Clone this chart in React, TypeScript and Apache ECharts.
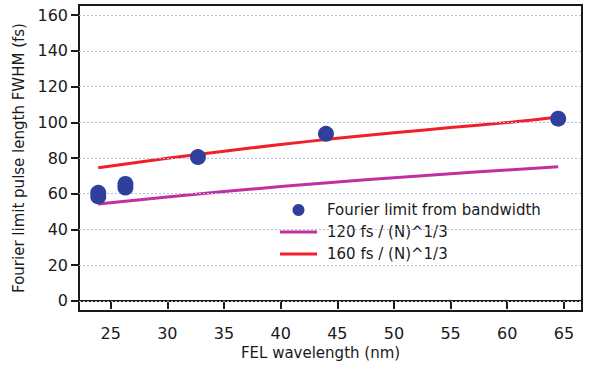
import React, { useEffect, useRef } from "react";
import * as echarts from "echarts";

const measured: [number, number][] = [
  [23.9, 58.5],
  [23.9, 60.5],
  [26.3, 63.5],
  [26.3, 65.5],
  [32.7, 80.5],
  [44.0, 93.5],
  [64.5, 102.0],
];
const fitX = [23.9, 30, 35, 40, 45, 50, 55, 60, 64.5];
const fit120 = [54.2, 58.2, 61.2, 64.0, 66.6, 69.0, 71.2, 73.3, 75.1];
const fit160 = [74.6, 79.8, 83.8, 87.5, 91.0, 94.1, 97.0, 99.8, 103.0];
const xTicks = [25, 30, 35, 40, 45, 50, 55, 60, 65];
const yTicks = [0, 20, 40, 60, 80, 100, 120, 140, 160];

const FONT = "DejaVu Sans";
const LINE_ICON = "path://M0 0 L37 0 L37 3 L0 3 Z";

export default function App() {
  const ref = useRef<HTMLDivElement>(null);
  useEffect(() => {
    const chart = echarts.init(ref.current!, null, { renderer: "svg" });
    const axisCommon = {
      axisLine: { show: true, lineStyle: { color: "#1a1a1a", width: 2 } },
      axisTick: { show: true, inside: false, length: 8, lineStyle: { color: "#1a1a1a", width: 2 } },
      splitLine: { show: false },
    };
    chart.setOption({
      animation: false,
      backgroundColor: "#fff",
      grid: {
        left: 79,
        right: 9,
        top: 5,
        bottom: 56,
        show: true,
        borderColor: "#1a1a1a",
        borderWidth: 2,
        backgroundColor: "transparent",
      },
      xAxis: {
        type: "value",
        min: 22.2,
        max: 66.6,
        name: "FEL wavelength (nm)",
        nameLocation: "middle",
        nameGap: 33,
        nameTextStyle: { fontFamily: FONT, fontSize: 15, color: "#1a1a1a", padding: [0, 20, 0, 0] },
        ...axisCommon,
        axisTick: { ...axisCommon.axisTick, customValues: xTicks },
        axisLabel: {
          customValues: xTicks,
          fontFamily: FONT,
          fontSize: 16,
          color: "#1a1a1a",
          margin: 14,
        },
      },
      yAxis: {
        type: "value",
        min: -5.6,
        max: 165.6,
        name: "Fourier limit pulse length FWHM (fs)",
        nameLocation: "middle",
        nameGap: 45,
        nameTextStyle: { fontFamily: FONT, fontSize: 15, color: "#1a1a1a" },
        ...axisCommon,
        axisTick: { ...axisCommon.axisTick, customValues: yTicks },
        axisLabel: {
          customValues: yTicks,
          fontFamily: FONT,
          fontSize: 16,
          color: "#1a1a1a",
          margin: 11,
        },
      },
      legend: {
        orient: "vertical",
        left: 280,
        top: 201,
        padding: 0,
        itemWidth: 37,
        itemHeight: 12,
        itemGap: 4,
        textStyle: { fontFamily: FONT, fontSize: 15, color: "#1a1a1a", lineHeight: 18, padding: [0, 0, 0, 5] },
        data: [
          { name: "Fourier limit from bandwidth", icon: "circle" },
          { name: "120 fs / (N)^1/3", icon: LINE_ICON },
          { name: "160 fs / (N)^1/3", icon: LINE_ICON },
        ],
      },
      series: [
        {
          name: "grid",
          type: "line",
          data: [],
          silent: true,
          markLine: {
            silent: true,
            symbol: "none",
            label: { show: false },
            lineStyle: { color: "#b8b8e4", type: [2, 2], width: 1 },
            data: yTicks.map((v) => ({ yAxis: v })),
          },
        },
        {
          name: "120 fs / (N)^1/3",
          type: "line",
          showSymbol: false,
          symbol: "none",
          smooth: true,
          data: fitX.map((x, i) => [x, fit120[i]]),
          lineStyle: { color: "#c030a0", width: 3 },
          itemStyle: { color: "#c030a0" },
        },
        {
          name: "160 fs / (N)^1/3",
          type: "line",
          showSymbol: false,
          symbol: "none",
          smooth: true,
          data: fitX.map((x, i) => [x, fit160[i]]),
          lineStyle: { color: "#f0202a", width: 3 },
          itemStyle: { color: "#f0202a" },
        },
        {
          name: "Fourier limit from bandwidth",
          type: "scatter",
          symbolSize: 16,
          data: measured,
          itemStyle: { color: "#2e3f9c", opacity: 1 },
          z: 5,
        },
      ],
    });
    return () => chart.dispose();
  }, []);
  return <div ref={ref} style={{ width: 591, height: 367, position: "absolute", left: 0, top: 0 }} />;
}
